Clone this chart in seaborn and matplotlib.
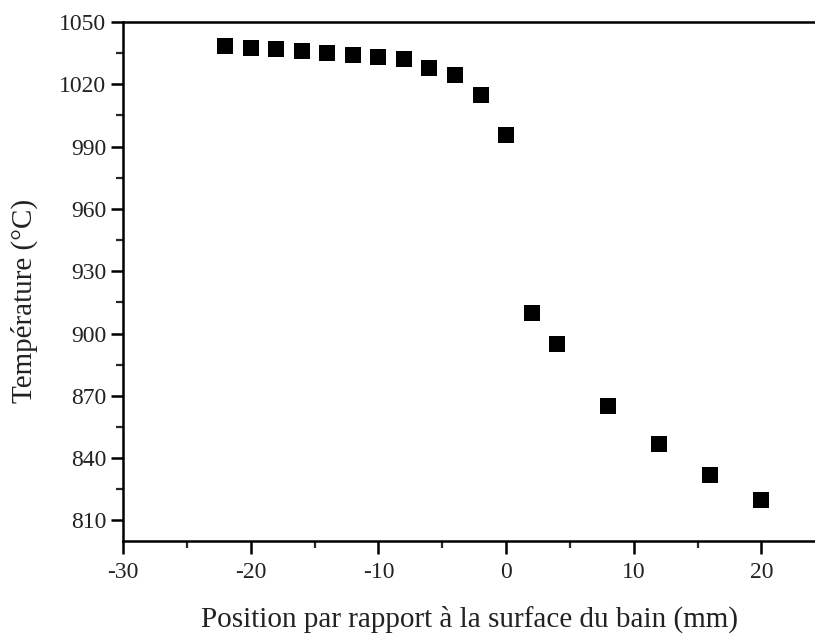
import numpy as np
import pandas as pd
import matplotlib.pyplot as plt
import seaborn as sns
from matplotlib.ticker import MultipleLocator

position = [-22, -20, -18, -16, -14, -12, -10, -8, -6, -4, -2, 0, 2, 4, 8, 12, 16, 20]
temperature = [1038.5, 1037.5, 1037, 1036, 1035, 1034, 1033, 1032, 1028, 1024.5,
               1015, 995.5, 910, 895, 865, 847, 832, 820]

df = pd.DataFrame({"position": position, "temperature": temperature})

sns.set_style("white")
plt.rcParams['font.family'] = ['Liberation Serif', 'DejaVu Serif']
plt.rcParams['axes.unicode_minus'] = False

fig = plt.figure(figsize=(8.15, 6.39), dpi=100)
ax = fig.add_axes([0.151, 0.153, 0.849, 0.8125])

sns.scatterplot(data=df, x="position", y="temperature", marker="s", s=120,
                color="black", edgecolor="black", linewidth=0, ax=ax)

ax.set_xlim(-30, 24.2)
ax.set_ylim(800, 1050)
ax.xaxis.set_major_locator(MultipleLocator(10))
ax.xaxis.set_minor_locator(MultipleLocator(5))
ax.yaxis.set_minor_locator(MultipleLocator(15))
ax.set_yticks([810, 840, 870, 900, 930, 960, 990, 1020, 1050])

for side in ["left", "bottom", "top"]:
    ax.spines[side].set_linewidth(1.8)
    ax.spines[side].set_color("black")
ax.spines["right"].set_visible(False)

ax.tick_params(which="major", direction="out", length=9, width=1.8, labelsize=17,
               left=True, bottom=True, top=False, right=False, colors="black")
ax.tick_params(axis="x", which="major", pad=6)
ax.tick_params(axis="y", which="major", pad=3)
ax.tick_params(which="minor", direction="out", length=5, width=1.6,
               left=True, bottom=True, top=False, right=False)
for lab in ax.get_xticklabels() + ax.get_yticklabels():
    lab.set_color("#222222")

ax.set_xlabel("Position par rapport à la surface du bain (mm)", fontsize=21, color="#222222")
ax.set_ylabel("Température (°C)", fontsize=21, color="#222222")
ax.xaxis.set_label_coords(0.501, -0.125)
ax.yaxis.set_label_coords(-0.123, 0.462)

plt.savefig("out.png", dpi=100)
